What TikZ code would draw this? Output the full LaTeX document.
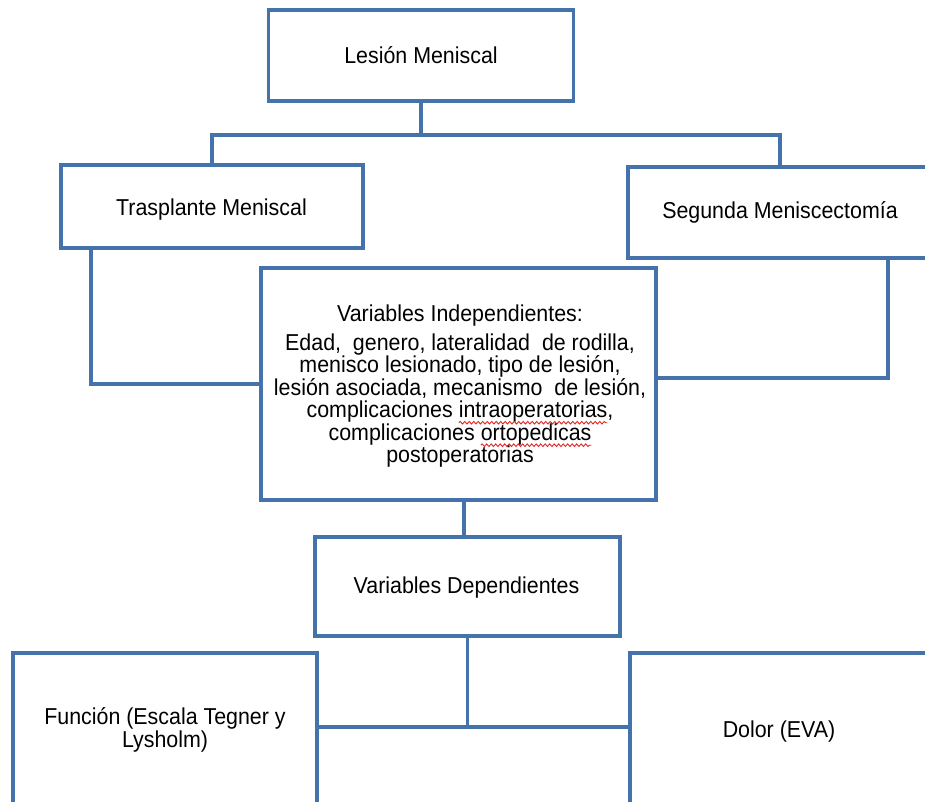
\documentclass[tikz,border=0pt]{standalone}
\usepackage{fontspec}
\setmainfont{Liberation Sans}[FakeStretch=0.93]
\usetikzlibrary{decorations.pathmorphing}
\definecolor{boxblue}{RGB}{70,114,172}
\definecolor{spellred}{RGB}{228,40,40}
\tikzset{
  box/.style={draw=boxblue, line width=3.2pt, fill=white, inner sep=0pt},
  conn/.style={draw=boxblue, line width=3.2pt},
  txt/.style={inner sep=0pt, outer sep=0pt, text=black, align=center,
              font=\fontsize{23}{22.5}\selectfont},
  spell/.style={draw=spellred, line width=0.9pt, overlay, decorate,
                decoration={snake, amplitude=1.3pt, segment length=4.5pt}}
}
\newcommand\wavyword[1]{\tikz[baseline=(wv.base)]{\node[inner sep=0pt, outer sep=0pt] (wv) {#1};
  \draw[spell] ([yshift=-5pt]wv.base west) -- ([yshift=-5pt]wv.base east);}}
\begin{document}
\begin{tikzpicture}[x=1pt, y=-1pt]
\useasboundingbox (0,0) rectangle (925,801);
\clip (0,0) rectangle (925,801);
\fill[white] (0,0) rectangle (925,801);

% boxes
\node[box, minimum width=305pt, minimum height=91pt] (les) at (421,55.5) {};
\node[box, minimum width=302pt, minimum height=83pt] (tras) at (212,206.5) {};
\node[box, minimum width=304pt, minimum height=91pt] (seg) at (780,212.5) {};
\node[box, minimum width=395pt, minimum height=232pt] (ind) at (458.5,384) {};
\node[box, minimum width=305pt, minimum height=99pt] (dep) at (467.5,586.5) {};
\node[box, minimum width=304pt, minimum height=260pt] (fun) at (165,783) {};
\node[box, minimum width=298pt, minimum height=260pt] (dol) at (779,783) {};

% junction coordinates
\coordinate (j1) at (421,135);
\coordinate (j2) at (467.5,727);

% connectors
\draw[conn] (les.south) -- (j1);
\draw[conn] (tras.north) |- (j1) -| (seg.north);
\draw[conn] ([xshift=-121pt]tras.south) |- (ind.west);
\draw[conn] ([xshift=108pt]seg.south) |- ([yshift=6pt]ind.east);
\draw[conn] ([xshift=5.5pt]ind.south) -- ([xshift=-3.5pt]dep.north);
\draw[conn] (dep.south) -- (j2);
\draw[conn] (fun.east |- j2) -- (dol.west |- j2);

% texts
\node[txt, anchor=base] (lest) at (421,63) {Lesión Meniscal};
\node[txt, anchor=base] (trast) at (211.5,215) {Trasplante Meniscal};
\node[txt, anchor=base] (segt) at (780,218) {Segunda Meniscectomía};
\node[txt] (indt) at (460,386) {Variables Independientes:\\[6.5pt]
  Edad, \ genero, lateralidad \ de rodilla,\\
  menisco lesionado, tipo de lesión,\\
  lesión asociada, mecanismo \ de lesión,\\
  complicaciones \wavyword{intraoperatorias},\\
  complicaciones \wavyword{ortopedicas}\\
  postoperatorias};
\node[txt, anchor=base] (dept) at (466.5,593) {Variables Dependientes};
\node[txt, font=\fontsize{23}{23}\selectfont] (funt) at (165,730) {Función (Escala Tegner y\\Lysholm)};
\node[txt, anchor=base] (dolt) at (779,737) {Dolor (EVA)};
\end{tikzpicture}
\end{document}
